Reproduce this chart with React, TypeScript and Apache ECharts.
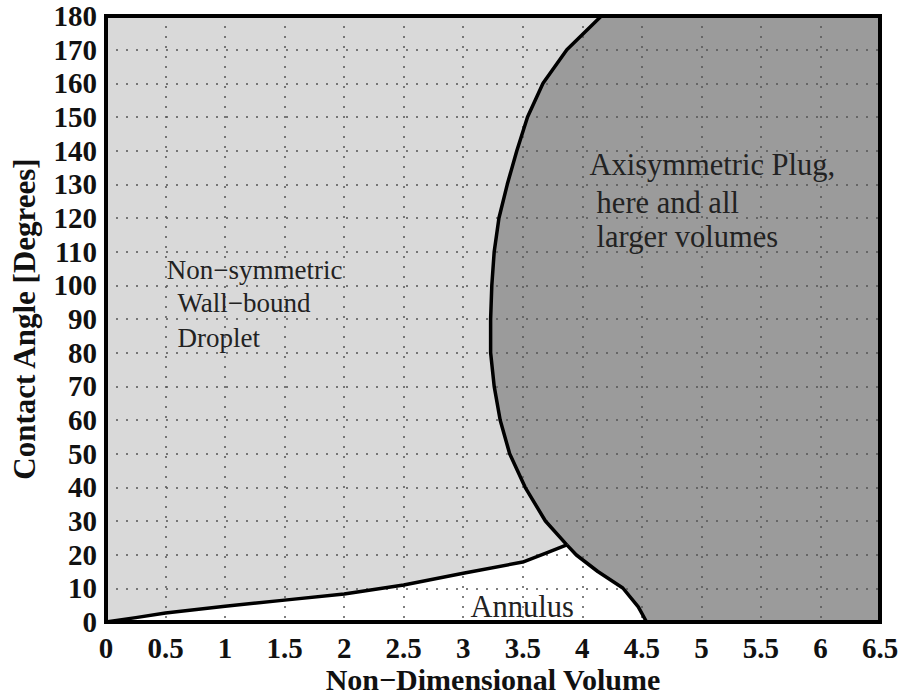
import React, { useEffect, useRef } from "react";
import * as echarts from "echarts";

// Boundary of the axisymmetric plug region (from top of plot to the triple point)
const plugBoundary: [number, number][] = [
  [4.16, 180], [3.87, 170], [3.67, 160], [3.54, 150], [3.45, 140], [3.37, 130],
  [3.30, 120], [3.26, 110], [3.24, 100], [3.23, 90], [3.23, 80], [3.26, 70],
  [3.31, 60], [3.39, 50], [3.52, 40], [3.69, 30], [3.87, 22.9],
];
// Plug / annulus boundary (triple point down to the x axis)
const annulusBoundary: [number, number][] = [
  [3.87, 22.9], [3.95, 19.9], [4.13, 15], [4.34, 10.1], [4.47, 4.5], [4.54, 0],
];
// Droplet / annulus boundary (origin to triple point)
const dropletBoundary: [number, number][] = [
  [0, 0], [0.25, 1.3], [0.5, 2.7], [1, 4.7], [1.5, 6.5], [2, 8.3], [2.5, 11],
  [3, 14.5], [3.5, 17.8], [3.7, 20.5], [3.87, 22.9],
];

const xRange = [0, 6.5];
const yRange = [0, 180];
const xStep = 0.5;
const yStep = 10;

const xTitle = "Non\u2212Dimensional Volume";
const yTitle = "Contact Angle [Degrees]";

// region labels: [text, x, y, fontSize] in data units (left edge, vertical middle)
const regionLabels: [string, number, number, number][] = [
  ["Non\u2212symmetric", 0.51, 104.5, 27],
  ["Wall\u2212bound", 0.6, 94.7, 27],
  ["Droplet", 0.6, 84.3, 27],
  ["Axisymmetric Plug,", 4.06, 135.7, 30.5],
  ["here and all", 4.12, 124.4, 30.5],
  ["larger volumes", 4.12, 114.3, 30.5],
  ["Annulus", 3.06, 4.6, 30.5],
];

const SERIF = '"Liberation Serif", "Times New Roman", serif';

export default function App() {
  const ref = useRef<HTMLDivElement>(null);
  useEffect(() => {
    if (!ref.current) return;
    const chart = echarts.init(ref.current, null, { renderer: "svg" });
    const option: any = {
      animation: false,
      backgroundColor: "#ffffff",
      grid: { left: 106, right: 24, top: 16, bottom: 74, containLabel: false, outerBoundsMode: "none" },
      xAxis: {
        type: "value",
        min: xRange[0],
        max: xRange[1],
        interval: xStep,
        z: 3,
        name: xTitle,
        nameLocation: "middle",
        nameGap: 42,
        nameMoveOverlap: false,
        nameTextStyle: { fontFamily: SERIF, fontWeight: "bold", fontSize: 30, lineHeight: 30, color: "#111" },
        axisLine: { show: false },
        axisTick: { show: false },
        axisLabel: {
          margin: 12,
          fontFamily: SERIF,
          fontWeight: "bold",
          fontSize: 29,
          lineHeight: 28,
          color: "#111",
          formatter: (v: number) => String(v),
        },
        splitLine: { show: true, lineStyle: { color: "#555", width: 1.5, type: [2, 8] } },
      },
      yAxis: {
        type: "value",
        min: yRange[0],
        max: yRange[1],
        interval: yStep,
        z: 3,
        name: yTitle,
        nameLocation: "middle",
        nameGap: 66,
        nameMoveOverlap: false,
        nameTextStyle: { fontFamily: SERIF, fontWeight: "bold", fontSize: 31, lineHeight: 31, color: "#111" },
        axisLine: { show: false },
        axisTick: { show: false },
        axisLabel: {
          margin: 9,
          fontFamily: SERIF,
          fontWeight: "bold",
          fontSize: 29,
          color: "#111",
        },
        splitLine: { show: true, lineStyle: { color: "#555", width: 1.5, type: [2, 8] } },
      },
      series: [
        {
          type: "custom",
          z: 1,
          silent: true,
          data: [[0, 0]],
          renderItem: (_p: any, api: any) => {
            const tl = api.coord([xRange[0], yRange[1]]);
            const br = api.coord([xRange[1], yRange[0]]);
            const plugPts = [
              ...plugBoundary,
              ...annulusBoundary.slice(1),
              [xRange[1], yRange[0]],
              [xRange[1], yRange[1]],
            ].map((p) => api.coord(p));
            const annPts = [...dropletBoundary, ...annulusBoundary.slice(1)].map((p) => api.coord(p));
            return {
              type: "group",
              children: [
                { type: "rect", shape: { x: tl[0], y: tl[1], width: br[0] - tl[0], height: br[1] - tl[1] }, style: { fill: "#d9d9d9" } },
                { type: "polygon", shape: { points: plugPts }, style: { fill: "#9b9b9b" } },
                { type: "polygon", shape: { points: annPts }, style: { fill: "#ffffff" } },
              ],
            };
          },
        },
        {
          type: "custom",
          z: 5,
          silent: true,
          data: [[0, 0]],
          renderItem: (_p: any, api: any) => {
            const tl = api.coord([xRange[0], yRange[1]]);
            const br = api.coord([xRange[1], yRange[0]]);
            const line = (pts: [number, number][]) => ({
              type: "polyline",
              shape: { points: pts.map((p) => api.coord(p)) },
              style: { stroke: "#000", lineWidth: 3.5, fill: "none", lineJoin: "round" },
            });
            const texts = regionLabels.map(([t, x, y, fs]) => {
              const c = api.coord([x, y]);
              return {
                type: "text",
                x: c[0],
                y: c[1],
                style: {
                  text: t,
                  fontFamily: SERIF,
                  fontSize: fs,
                  fill: "#222",
                  align: "left",
                  verticalAlign: "middle",
                },
              };
            });
            return {
              type: "group",
              children: [
                line(plugBoundary),
                line(annulusBoundary),
                line(dropletBoundary),
                ...texts,
                {
                  type: "rect",
                  shape: { x: tl[0], y: tl[1], width: br[0] - tl[0], height: br[1] - tl[1] },
                  style: { fill: "none", stroke: "#000", lineWidth: 4 },
                },
              ],
            };
          },
        },
      ],
    };
    chart.setOption(option);
    return () => chart.dispose();
  }, []);
  return (
    <div
      ref={ref}
      style={{ position: "absolute", left: 0, top: 0, width: 904, height: 696 }}
    />
  );
}
